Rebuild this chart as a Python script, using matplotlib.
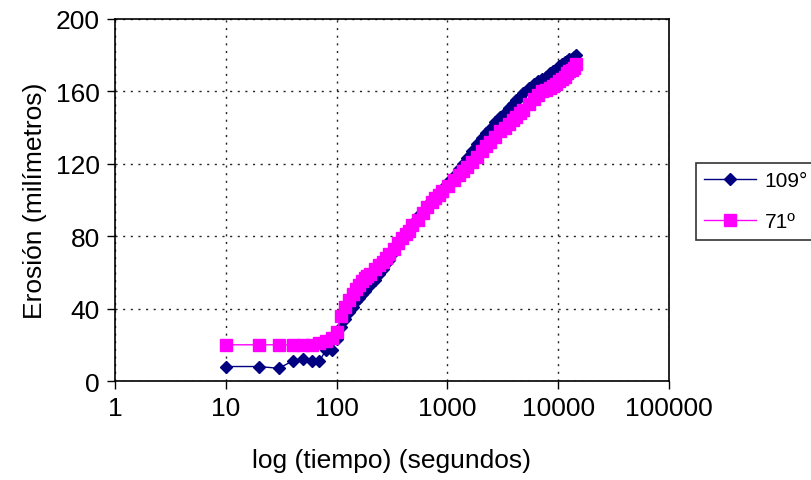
import matplotlib
matplotlib.use("Agg")
import matplotlib.pyplot as plt
from matplotlib.ticker import FixedLocator, NullLocator, FixedFormatter

plt.rcParams['font.family'] = ['Liberation Sans', 'DejaVu Sans']

# time in seconds
tiempo = [10, 20, 30, 40, 50, 60, 70, 80, 90, 100, 110, 120, 130, 140, 150,
          160, 170, 180, 190, 200, 220, 240, 260, 280, 300, 330, 360, 390,
          420, 450, 480, 540, 600, 660, 720, 780, 840, 900, 1020, 1140,
          1260, 1380, 1500, 1680, 1860, 2040, 2220, 2400, 2700, 3000, 3300,
          3600, 3900, 4200, 4500, 4800, 5400, 6000, 6600, 7200, 7800, 8400,
          9000, 9600, 10200, 10800, 11400, 12000, 12600, 13200, 13800, 14400]

erosion_109 = [8, 8, 7, 11, 12, 11, 11, 17, 17, 23, 30, 34, 38, 41, 44,
               46, 48, 50, 52, 53, 56, 59, 62, 65, 67, 71, 75, 78,
               81, 84, 87, 91, 94, 97, 100, 102, 104, 106, 110, 113,
               117, 120, 123, 127, 131, 134, 137, 139, 143, 146, 148,
               151, 153, 155, 157, 159, 162, 164, 166, 167, 168, 170,
               171, 172, 174, 175, 176, 177, 178, 178, 179, 180]

erosion_71 = [20, 20, 20, 20, 20, 20, 21, 22, 24, 27, 36, 41, 45, 48, 51,
              53, 55, 57, 58, 59, 62, 64, 66, 68, 70, 73, 76, 79,
              81, 83, 86, 89, 93, 96, 99, 101, 103, 105, 108, 111,
              114, 116, 118, 121, 124, 127, 130, 132, 135, 138, 140,
              142, 144, 146, 148, 150, 153, 156, 158, 160, 161, 162,
              163, 164, 166, 167, 168, 170, 171, 172, 173, 175]

series_labels = ['109°', '71º']
xticks = [1, 10, 100, 1000, 10000, 100000]
xtick_labels = ['1', '10', '100', '1000', '10000', '100000']
yticks = [0, 40, 80, 120, 160, 200]

FS = 19
LFS = 15

fig = plt.figure(figsize=(8.12, 4.81), dpi=100)
ax = fig.add_axes([115/812, 1-382/481, (669-115)/812, (382-20)/481])

ax.plot(tiempo, erosion_109, color='#000080', lw=1, marker='D', ms=6.5,
        mfc='#000080', mec='#000080', label=series_labels[0], zorder=3)
ax.plot(tiempo, erosion_71, color='#FF00FF', lw=1, marker='s', ms=8.5,
        mfc='#FF00FF', mec='#FF00FF', label=series_labels[1], zorder=4)

ax.set_xscale('log')
ax.set_xlim(1, 100000)
ax.set_ylim(0, 200)
ax.xaxis.set_major_locator(FixedLocator(xticks))
ax.xaxis.set_major_formatter(FixedFormatter(xtick_labels))
ax.xaxis.set_minor_locator(NullLocator())
ax.set_yticks(yticks)

ax.grid(True, which='major', color='#222222', linestyle=(0, (1.5, 4)), lw=1)
ax.set_axisbelow(True)
for s in ax.spines.values():
    s.set_linewidth(1.2)
    s.set_color('black')

ax.tick_params(axis='both', direction='out', length=6, width=1,
               labelsize=FS, pad=5, colors='black')

ax.set_xlabel('log (tiempo) (segundos)', fontsize=FS, labelpad=20)
ax.set_ylabel('Erosión (milímetros)', fontsize=FS, labelpad=6)

leg = fig.legend(loc='upper left', bbox_to_anchor=(696/812, 1-164/481),
                 bbox_transform=fig.transFigure, fontsize=LFS,
                 frameon=True, fancybox=False, edgecolor='black',
                 handlelength=2.5, borderpad=0.4, labelspacing=1.05,
                 handletextpad=0.4, borderaxespad=0)
leg.get_frame().set_linewidth(1.2)

fig.savefig('out.png', dpi=100)
